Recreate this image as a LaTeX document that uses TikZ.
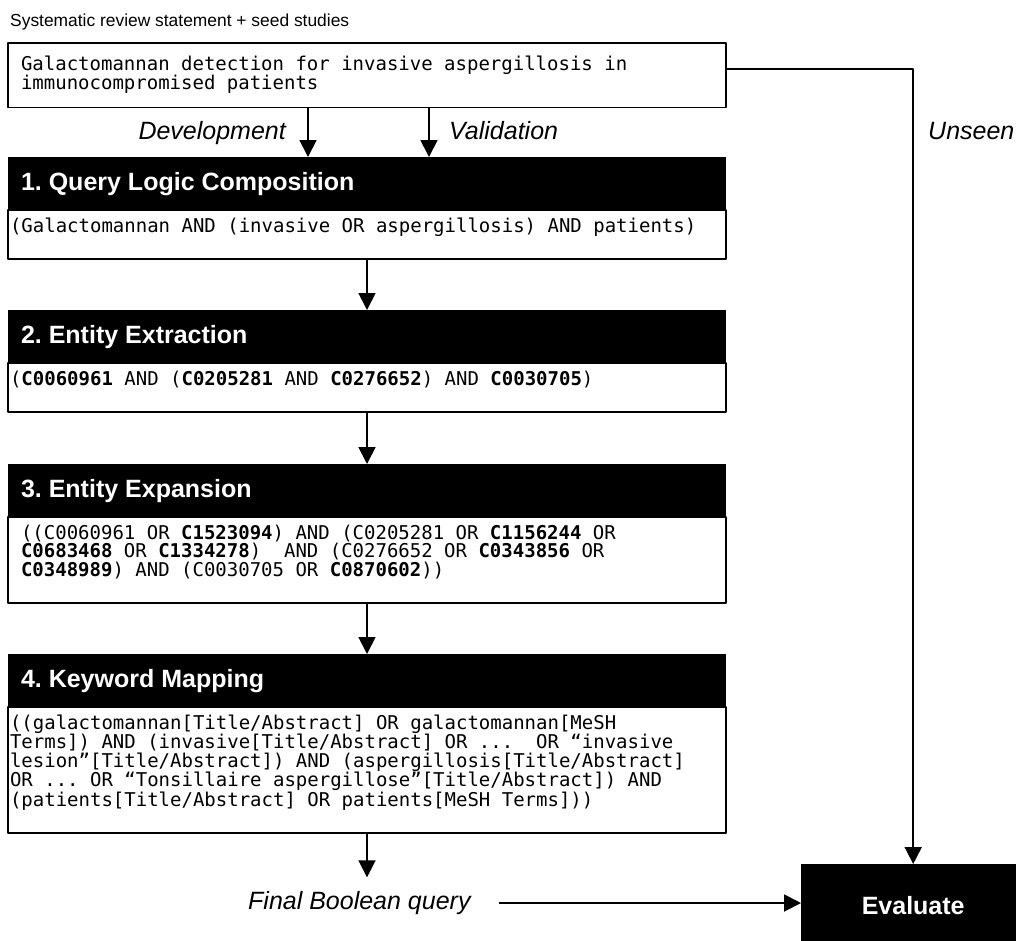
\documentclass[tikz,border=0pt]{standalone}
\usepackage{fontspec}
\setmainfont{Liberation Sans}
\newfontfamily\qfont{DejaVu Sans Mono}
\usetikzlibrary{arrows.meta,positioning,calc}
\frenchspacing
\tikzset{
  headbar/.style={fill=black, text=white, anchor=north west, inner xsep=13pt, inner ysep=0pt,
    outer sep=0pt, text width=692pt, minimum height=53pt, text height=18pt, text depth=5pt,
    align=flush left, font=\fontsize{25}{30}\selectfont\bfseries},
  qbox/.style={draw, fill=white, line width=1.8pt, anchor=north west, inner ysep=0pt,
    outer sep=0pt, align=flush left, font=\qfont\fontsize{19}{18.5}\selectfont},
  lbl/.style={inner sep=0pt, font=\fontsize{25}{30}\selectfont\itshape},
  arr/.style={line width=1.8pt, -{Triangle[width=17pt,length=17pt]}},
}
% one pipeline step: #1 name, #2 top, #3 title, #4 xsep, #5 text width, #6 query
\newcommand\drawstep[6]
{
\node[headbar] (h#1) at (8,#2) {#3};
\node[qbox, inner xsep=#4, text width=#5] (c#1) at (h#1.south west)
  {\rule{0pt}{22pt}#6\rule[-27pt]{0pt}{27pt}};
}
\begin{document}
\begin{tikzpicture}[x=1pt, y=-1pt, line join=round]
\useasboundingbox (0,0) rectangle (1016,940);
\clip (0,0) rectangle (1016,940);
\node[anchor=base west, inner sep=0pt, font=\fontsize{17.4}{20}\selectfont] (title) at (10,26)
  {Systematic review statement + seed studies};
\node[qbox, inner xsep=13pt, text width=692pt] (stmt) at (8,43)
  {\rule{0pt}{27pt}Galactomannan detection for invasive aspergillosis in\\
   immunocompromised patients\rule[-18pt]{0pt}{18pt}};

\drawstep{1}{157}{1. Query Logic Composition}{2pt}{714pt}
  {(Galactomannan AND (invasive OR aspergillosis) AND patients)}
\drawstep{2}{310}{2. Entity Extraction}{2pt}{714pt}
  {(\textbf{C0060961} AND (\textbf{C0205281} AND \textbf{C0276652}) AND \textbf{C0030705})}
\drawstep{3}{464}{3. Entity Expansion}{13pt}{692pt}
  {((C0060961 OR \textbf{C1523094}) AND (C0205281 OR \textbf{C1156244} OR\\
   \textbf{C0683468} OR \textbf{C1334278})~~AND (C0276652 OR \textbf{C0343856} OR\\
   \textbf{C0348989}) AND (C0030705 OR \textbf{C0870602}))}
\drawstep{4}{654}{4. Keyword Mapping}{2pt}{714pt}
  {((galactomannan[Title/Abstract] OR galactomannan[MeSH\\
   Terms]) AND (invasive[Title/Abstract] OR ...~~OR “invasive\\
   lesion”[Title/Abstract]) AND (aspergillosis[Title/Abstract]\\
   OR ... OR “Tonsillaire aspergillose”[Title/Abstract]) AND\\
   (patients[Title/Abstract] OR patients[MeSH Terms]))}

\node[fill=black, text=white, anchor=north west, minimum width=224pt, minimum height=82pt,
  font=\fontsize{25}{30}\selectfont\bfseries] (eval) at (801,864) {Evaluate};

\node[lbl, anchor=base east] (dev) at (286,139) {Development};
\node[lbl, anchor=base west] (val) at (449,139) {Validation};
\node[lbl, anchor=base west] (unseen) at (928,139) {Unseen};
\node[lbl, anchor=west, text height=18pt, text depth=5pt] (final) at (248,903) {Final Boolean query};

\coordinate (devx) at (308,0);
\coordinate (valx) at (429,0);
\draw[arr] (stmt.south -| devx) -- (h1.north -| devx);
\draw[arr] (stmt.south -| valx) -- (h1.north -| valx);
\draw[arr] (c1.south) -- (h2.north);
\draw[arr] (c2.south) -- (h3.north);
\draw[arr] (c3.south) -- (h4.north);
\draw[arr, shorten >=14pt] (c4.south) -- (c4.south |- final.north);
\draw[arr, shorten <=28pt] (final.east) -- (final.east -| eval.west);
\draw[arr] ([yshift=6pt]stmt.east) -| (eval.north);
\end{tikzpicture}
\end{document}
